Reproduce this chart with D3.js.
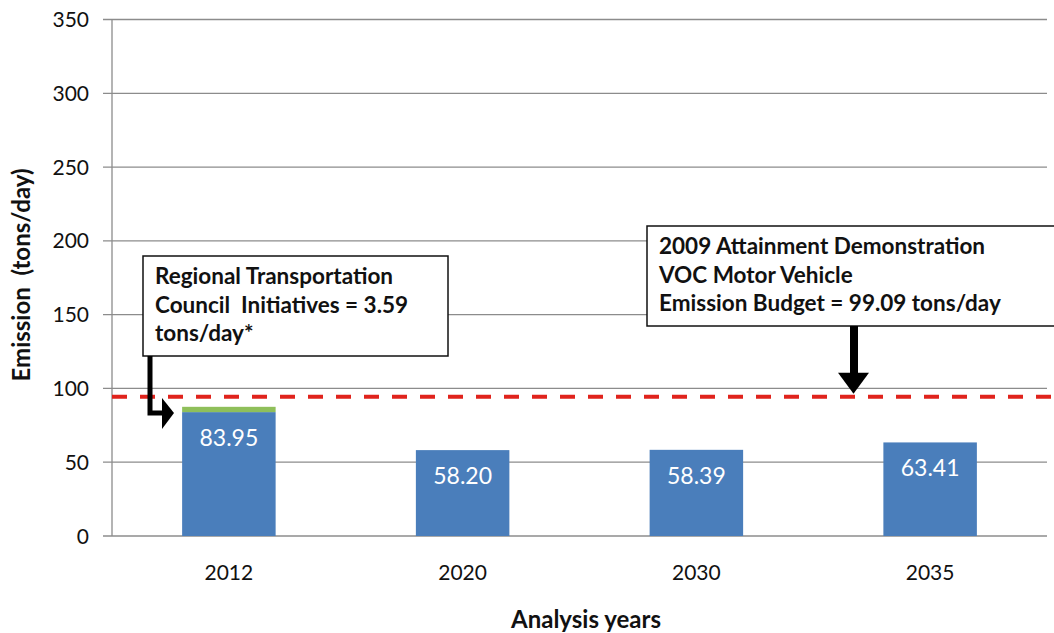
<!DOCTYPE html>
<html><head><meta charset="utf-8">
<script src="https://cdn.jsdelivr.net/npm/d3@7"></script>
<style>body{margin:0;background:#fff}svg{display:block}text{font-family:Lato,"Open Sans",sans-serif;white-space:pre}</style>
</head><body><svg id="c" width="1054" height="633"></svg>
<script>
const categories = ["2012","2020","2030","2035"];
const baseEmission = [83.95, 58.20, 58.39, 63.41];
const initiatives = [3.59, 0, 0, 0];
const budgetLine = 94.4;
const yTicks = [0,50,100,150,200,250,300,350];
const note1 = ["Regional Transportation","Council  Initiatives = 3.59","tons/day*"];
const note2 = ["2009 Attainment Demonstration","VOC Motor Vehicle","Emission Budget = 99.09 tons/day"];

const svg = d3.select("#c");
const L = 112, R = 1047, T = 19.5, B = 536;
const x = d3.scaleBand().domain(categories).range([L, R]).paddingInner(0.6).paddingOuter(0.3);
const y = d3.scaleLinear().domain([0,350]).range([B, T]);
const grid = "#8c8c8c";

svg.append("g").selectAll("line").data(yTicks).join("line")
  .attr("x1", L-9).attr("x2", R).attr("y1", d=>y(d)).attr("y2", d=>y(d))
  .attr("stroke", grid).attr("stroke-width", 1.3);
svg.append("line").attr("x1", L).attr("x2", L).attr("y1", T).attr("y2", B).attr("stroke", grid).attr("stroke-width", 1.3);

svg.append("g").selectAll("text").data(yTicks).join("text")
  .attr("x", 89).attr("y", d=>y(d)).attr("dy","0.36em").attr("text-anchor","end")
  .attr("font-size", 21).attr("fill","#111").text(d=>d);

svg.append("g").selectAll("text").data(categories).join("text")
  .attr("x", d=>x(d)+x.bandwidth()/2).attr("y", 580).attr("text-anchor","middle")
  .attr("font-size", 21).attr("fill","#111").text(d=>d);

const rows = categories.map((c,i)=>({c, b: baseEmission[i], g: initiatives[i]}));
svg.append("g").selectAll("rect").data(rows).join("rect")
  .attr("x", d=>x(d.c)).attr("width", x.bandwidth())
  .attr("y", d=>y(d.b)).attr("height", d=>y(0)-y(d.b)).attr("fill","#4a7ebb");
svg.append("g").selectAll("rect").data(rows.filter(d=>d.g>0)).join("rect")
  .attr("x", d=>x(d.c)).attr("width", x.bandwidth())
  .attr("y", d=>y(d.b+d.g)).attr("height", d=>y(d.b)-y(d.b+d.g)).attr("fill","#8fbf5a");
svg.append("g").selectAll("text").data(rows).join("text")
  .attr("x", d=>x(d.c)+x.bandwidth()/2).attr("y", d=>y(d.b)+34).attr("text-anchor","middle")
  .attr("font-size", 23).attr("fill","#fff").text(d=>d.b.toFixed(2));

svg.append("line").attr("x1", L).attr("x2", 1054).attr("y1", y(budgetLine)).attr("y2", y(budgetLine))
  .attr("stroke","#e0231c").attr("stroke-width",4).attr("stroke-dasharray","15 13");

function box(x0,y0,x1,y1,lines,tx,ty,lh){
  svg.append("rect").attr("x",x0).attr("y",y0).attr("width",x1-x0).attr("height",y1-y0)
    .attr("fill","#fff").attr("stroke","#111").attr("stroke-width",1.5);
  svg.append("g").selectAll("text").data(lines).join("text")
    .attr("x",tx).attr("y",(d,i)=>ty+i*lh).attr("font-size",22.5).attr("font-weight","bold").attr("fill","#111").text(d=>d);
}
box(143,256,448,356,note1,155,284,28.5);
box(647,226,1060,326,note2,659,254,28.5);

const ay = y(budgetLine);
svg.append("line").attr("x1",854).attr("x2",854).attr("y1",326).attr("y2",ay-22).attr("stroke","#000").attr("stroke-width",8);
svg.append("path").attr("d",`M838,${ay-24} L869,${ay-24} L853.5,${ay-3} Z`).attr("fill","#000");

svg.append("path").attr("d","M150,356 L150,413 L164,413").attr("fill","none").attr("stroke","#000").attr("stroke-width",5);
svg.append("path").attr("d","M162,398 L174,413 L162,429 Z").attr("fill","#000");

svg.append("text").attr("transform","translate(30,275) rotate(-90)").attr("text-anchor","middle")
  .attr("font-size",24).attr("font-weight","bold").attr("fill","#111").text("Emission  (tons/day)");
svg.append("text").attr("x",586).attr("y",628).attr("text-anchor","middle")
  .attr("font-size",24).attr("font-weight","bold").attr("fill","#111").text("Analysis years");
</script></body></html>
